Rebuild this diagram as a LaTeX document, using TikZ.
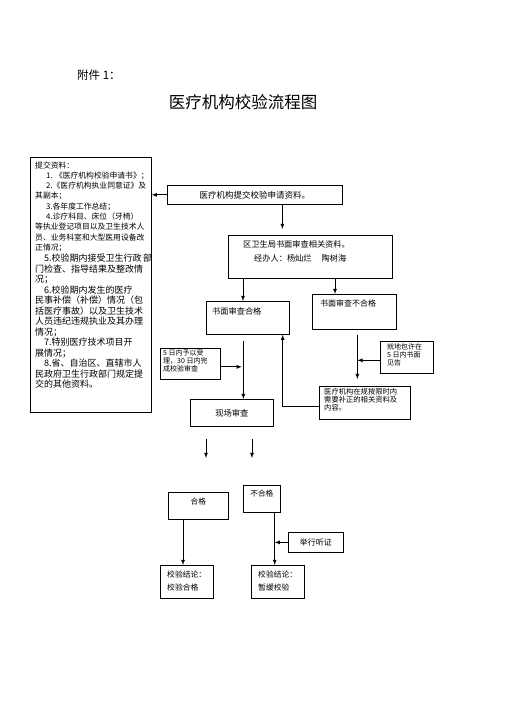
\documentclass[tikz,border=0pt]{standalone}
\usepackage{fontspec}
\setmainfont{Noto Sans CJK SC}
\usetikzlibrary{calc}
\usetikzlibrary{arrows}

\tikzset{
  box/.style={draw, line width=0.7pt, inner sep=0pt, anchor=north west},
  flow/.style={->, >=latex, line width=0.8pt},
  txt/.style={inner sep=0pt, align=left},
}

\begin{document}
\begin{tikzpicture}[x=1pt, y=-1pt]
  % Page
  \path[use as bounding box] (0,0) rectangle (505,714);
  % Heading
  \node[txt, anchor=west, font=\fontsize{11.5}{12}\selectfont] (annex) at (77,75) {附件 1：};
  \node[txt, font=\fontsize{16.5}{18}\selectfont] (title) at (243,102) {医疗机构校验流程图};
  % Materials list
  \node[box, minimum width=121, minimum height=255] (docs) at (30,157) {};
  \foreach \x/\s [count=\i from 0] in {35/提交资料：, 46/1. 《医疗机构校验申请书》；,
      46/2.《医疗机构执业同意证》及, 35/其副本；, 46/3.各年度工作总结；,
      46/4.诊疗科目、床位（牙椅）, 35/等执业登记项目以及卫生技术人,
      35/员、业务科室和大型医用设备改, 35/正情况；}
    \node[txt, anchor=base west, font=\fontsize{7.8}{9}\selectfont] at (\x,168+\i*10.3) {\s};
  \foreach \x/\s [count=\i from 0] in {44/5.校验期内接受卫生行政\hspace{1.5pt}部, 35/门检查、指导结果及整改情,
      35/况；, 44/6.校验期内发生的医疗, 35/民事补偿（补偿）情况（包,
      35/括医疗事故）以及卫生技术, 35/人员违纪违规执业及其办理, 35/情况；,
      44/7.特别医疗技术项目开, 35/展情况；, 44/8.省、自治区、直辖市人,
      35/民政府卫生行政部门规定提, 35/交的其他资料。}
    \node[txt, anchor=base west, font=\fontsize{9}{10}\selectfont] at (\x,261.5+\i*10.5) {\s};
  % Submission and review
  \node[box, minimum width=175, minimum height=19, font=\fontsize{8.5}{9}\selectfont] (submit) at (167,185) {医疗机构提交校验申请资料。};
  \node[box, minimum width=164, minimum height=43] (review) at (228,235) {};
  \node[txt, anchor=north west, font=\fontsize{8.2}{14}\selectfont] (reviewtxt) at ([xshift=15,yshift=-5]review.north west)
    {区卫生局书面审查相关资料。\\\hspace{11pt}经办人：杨灿烂\hspace{10pt}陶树海};
  \node[box, minimum width=83, minimum height=33] (pass) at (206,301) {};
  \node[txt, anchor=west, font=\fontsize{8.2}{9}\selectfont] at ([xshift=6,yshift=-10]pass.north west) {书面审查合格};
  \node[box, minimum width=84, minimum height=35] (fail) at (312,294) {};
  \node[txt, anchor=west, font=\fontsize{8}{9}\selectfont] at ([xshift=8,yshift=-9]fail.north west) {书面审查不合格};
  % Side notes
  \node[box, minimum width=60, minimum height=31] (acc) at (160,348) {};
  \node[txt, anchor=north west, font=\fontsize{7}{8}\selectfont] at ([xshift=3,yshift=-1]acc.north west)
    {5 日内予以受\\理，30 日内完\\成校验审查};
  \node[box, minimum width=53, minimum height=32] (notice) at (380,341) {};
  \node[txt, anchor=north west, font=\fontsize{7}{8}\selectfont] at ([xshift=7,yshift=-2]notice.north west)
    {就地包许在\\5 日内书面\\见告};
  \node[box, minimum width=91, minimum height=33] (fix) at (319,386) {};
  \node[txt, anchor=north west, font=\fontsize{7.3}{8}\selectfont] at ([xshift=5,yshift=-2]fix.north west)
    {医疗机构在规按限时内\\需要补正的相关资料及\\内容。};
  \node[box, minimum width=83, minimum height=27, font=\fontsize{8.3}{9}\selectfont] (site) at (190,399) {现场审查};
  % Results
  \node[box, minimum width=60, minimum height=27] (okbox) at (168,492) {};
  \node[txt, font=\fontsize{7.7}{9}\selectfont] at ([yshift=-10]okbox.north) {合格};
  \node[box, minimum width=37, minimum height=27] (nobox) at (243,485) {};
  \node[txt, font=\fontsize{7.7}{9}\selectfont] at ([yshift=-9]nobox.north) {不合格};
  \node[box, minimum width=55, minimum height=20, font=\fontsize{8}{9}\selectfont] (hear) at (288,532) {举行听证};
  \node[box, minimum width=53, minimum height=33] (okres) at (160,565) {};
  \node[txt, anchor=north west, font=\fontsize{7.8}{13}\selectfont] at ([xshift=7,yshift=-6]okres.north west)
    {校验结论：\\校验合格};
  \node[box, minimum width=53, minimum height=33] (nores) at (251,565) {};
  \node[txt, anchor=north west, font=\fontsize{7.8}{13}\selectfont] at ([xshift=7,yshift=-6]nores.north west)
    {校验结论：\\暂缓校验};
  % Connectors
  \draw[flow] (submit.west) -- (submit.west -| docs.east);
  \coordinate (s1) at ([xshift=27.5]submit.south);
  \draw[flow, shorten >=6pt] (s1) -- (s1 |- review.north);
  \coordinate (r1) at ([xshift=15]review.south west);
  \draw[flow] (r1) -- (r1 |- pass.north);
  \coordinate (r2) at ([xshift=107]review.south west);
  \draw[flow] (r2) -- (r2 |- fail.north);
  \coordinate (p1) at ([xshift=-4.5,yshift=-6]pass.south);
  \draw[flow] (p1) -- (p1 |- site.north);
  \coordinate (a1) at ([yshift=-3]acc.east);
  \draw[flow, shorten >=1.5pt] (a1) -- (a1 -| p1);
  \coordinate (f0) at ([xshift=3,yshift=-5]fail.south);
  \draw[flow, shorten >=7pt] (f0) -- (f0 |- fix.north);
  \coordinate (n1) at ([yshift=-3]notice.west);
  \draw[flow] (n1) -- (n1 -| f0);
  \coordinate (e1) at ([yshift=-3.5]fix.west);
  \coordinate (p2) at ([xshift=-7]pass.south east);
  \draw[flow] (e1) -| (p2);
  % Loose arrows below site check
  \coordinate (t1) at (206,439);
  \coordinate (t2) at (206,458);
  \coordinate (t3) at (252,439);
  \coordinate (t4) at (252,458);
  \draw[flow] (t1) -- (t2);
  \draw[flow] (t3) -- (t4);
  \coordinate (k1) at ([xshift=15]okbox.south west);
  \draw[flow] (k1) -- (k1 |- okres.north);
  \coordinate (k2) at ([xshift=-6]nobox.south east);
  \draw[flow] (k2) -- (k2 |- nores.north);
  \draw[flow] (hear.west) -- (hear.west -| k2);
\end{tikzpicture}
\end{document}
